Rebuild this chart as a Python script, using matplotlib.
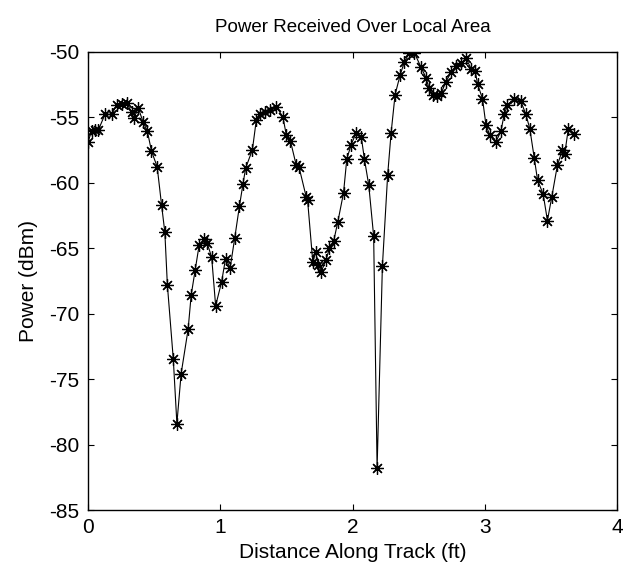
import matplotlib
matplotlib.use('Agg')
import matplotlib.pyplot as plt

# distance along track (ft) and received power (dBm)
dist = [0.0, 0.028, 0.055, 0.078, 0.128, 0.179, 0.216, 0.254, 0.292, 0.33,
        0.347, 0.38, 0.417, 0.448, 0.48, 0.523, 0.556, 0.581, 0.6, 0.645,
        0.672, 0.704, 0.757, 0.78, 0.81, 0.84, 0.88, 0.90, 0.935, 0.965,
        1.01, 1.04, 1.075, 1.11, 1.145, 1.172, 1.192, 1.243, 1.273, 1.298,
        1.336, 1.374, 1.424, 1.474, 1.50, 1.53, 1.575, 1.595, 1.65, 1.66,
        1.70, 1.721, 1.742, 1.764, 1.80, 1.826, 1.857, 1.889, 1.932, 1.957,
        1.99, 2.028, 2.066, 2.09, 2.123, 2.16, 2.186, 2.226, 2.266, 2.292,
        2.322, 2.36, 2.392, 2.43, 2.468, 2.518, 2.556, 2.578, 2.606, 2.636,
        2.67, 2.707, 2.745, 2.783, 2.82, 2.858, 2.896, 2.928, 2.946, 2.983,
        3.009, 3.039, 3.084, 3.122, 3.147, 3.172, 3.223, 3.273, 3.311, 3.341,
        3.374, 3.399, 3.442, 3.474, 3.507, 3.549, 3.587, 3.605, 3.632, 3.675]
power = [-56.9, -56.05, -56.0, -56.0, -54.8, -54.8, -54.1, -54.0, -53.95, -54.6,
         -55.1, -54.3, -55.4, -56.05, -57.6, -58.8, -61.7, -63.8, -67.8, -73.5,
         -78.4, -74.6, -71.2, -68.6, -66.7, -64.8, -64.3, -64.6, -65.7, -69.4,
         -67.6, -65.8, -66.5, -64.2, -61.8, -60.1, -58.9, -57.5, -55.2, -54.8,
         -54.6, -54.5, -54.2, -55.0, -56.4, -56.8, -58.7, -58.8, -61.1, -61.3,
         -66.1, -65.3, -66.3, -66.8, -65.9, -65.0, -64.5, -63.0, -60.8, -58.2,
         -57.1, -56.2, -56.5, -58.2, -60.2, -64.1, -81.8, -66.4, -59.4, -56.2,
         -53.3, -51.8, -50.8, -50.1, -50.1, -51.2, -52.0, -52.8, -53.3, -53.4,
         -53.2, -52.3, -51.6, -51.1, -50.9, -50.5, -51.3, -51.5, -52.5, -53.6,
         -55.6, -56.4, -56.9, -56.1, -54.8, -54.1, -53.6, -53.8, -54.8, -55.9,
         -58.1, -59.8, -60.9, -62.9, -61.1, -58.7, -57.5, -57.8, -55.9, -56.3]

plt.rcParams['font.family'] = ['Liberation Sans', 'DejaVu Sans']
plt.rcParams['axes.unicode_minus'] = False  # plain hyphen like the scan

fig = plt.figure(figsize=(6.26, 5.65), dpi=100)
ax = fig.add_axes([0.1406, 0.0973, 0.845, 0.8115])

# matlab style '*' : eight armed asterisk
ax.plot(dist, power, color='black', linewidth=0.8, marker=(8, 2, 0),
        markersize=9, markeredgewidth=0.9)

ax.set_xlim(0, 4)
ax.set_ylim(-85, -50)
ax.set_xticks([0, 1, 2, 3, 4])
ax.set_yticks([-85, -80, -75, -70, -65, -60, -55, -50])
ax.tick_params(direction='in', length=4, width=0.8, top=True, right=True,
               labelsize=15, pad=6)
for s in ax.spines.values():
    s.set_linewidth(1.0)

ax.set_title('Power Received Over Local Area', fontsize=13.5, pad=14)
ax.set_xlabel('Distance Along Track (ft)', fontsize=15, labelpad=4)
ax.set_ylabel('Power (dBm)', fontsize=15, labelpad=8)

fig.savefig('out.png', dpi=100)
